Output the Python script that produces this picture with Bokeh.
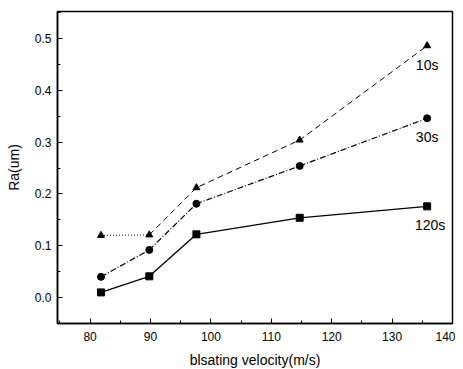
from bokeh.plotting import figure
from bokeh.models import FixedTicker, NumeralTickFormatter, Range1d, ColumnDataSource
from bokeh.core.properties import value
from bokeh.embed import file_html
from bokeh.resources import INLINE

velocity = [81.8, 89.8, 97.6, 114.7, 135.8]
ra_10s = [0.120, 0.121, 0.212, 0.304, 0.486]
ra_30s = [0.040, 0.092, 0.181, 0.254, 0.346]
ra_120s = [0.010, 0.041, 0.122, 0.154, 0.176]
series_labels = ["10s", "30s", "120s"]
label_dx = [0, 0, 3]
x_ticks = [80, 90, 100, 110, 120, 130, 140]
y_ticks = [0.0, 0.1, 0.2, 0.3, 0.4, 0.5]

FONT = "Liberation Sans"

p = figure(width=447, height=355, output_backend="svg", toolbar_location=None,
           x_range=Range1d(74.6, 140), y_range=Range1d(-0.05, 0.552),
           frame_width=395, frame_height=312,
           min_border_left=57, min_border_right=3, min_border_top=11, min_border_bottom=30)
p.grid.visible = False
p.outline_line_color = "black"
p.outline_line_width = 1.5
p.background_fill_color = "white"
p.border_fill_color = "white"

for ax in (p.xaxis[0], p.yaxis[0]):
    ax.axis_line_width = 1.5
    ax.major_tick_in = 5
    ax.major_tick_out = 0
    ax.minor_tick_in = 3
    ax.minor_tick_out = 0
    ax.major_label_text_font = FONT
    ax.major_label_text_font_size = "12px"
    ax.major_label_text_color = "black"
    ax.axis_label_text_font = FONT
    ax.axis_label_text_font_size = "14px"
    ax.axis_label_text_font_style = "normal"
    ax.axis_label_text_color = "black"

p.xaxis.ticker = FixedTicker(ticks=x_ticks, minor_ticks=[75, 85, 95, 105, 115, 125, 135])
p.yaxis.ticker = FixedTicker(ticks=y_ticks, minor_ticks=[-0.05, 0.05, 0.15, 0.25, 0.35, 0.45, 0.55])
p.yaxis.formatter = NumeralTickFormatter(format="0.0")
p.xaxis.axis_label = "blsating velocity(m/s)"
p.yaxis.axis_label = "Ra(um)"
p.xaxis.major_label_standoff = 8
p.xaxis.axis_label_standoff = 8
p.yaxis.major_label_standoff = 6
p.yaxis.axis_label_standoff = 10

# 10s: dotted first segment, dashed remainder
p.line(velocity[:2], ra_10s[:2], line_color="black", line_width=1, line_dash="1 2")
p.line(velocity[1:], ra_10s[1:], line_color="black", line_width=1, line_dash="6 4")
p.scatter(velocity, ra_10s, marker="triangle", size=7, color="black")

p.line(velocity, ra_30s, line_color="black", line_width=1.2, line_dash="6 2 1 2")
p.scatter(velocity, ra_30s, marker="circle", size=7, color="black")

p.line(velocity, ra_120s, line_color="black", line_width=1.3)
p.scatter(velocity, ra_120s, marker="square", size=7, color="black")

last_vals = [ra_10s[-1], ra_30s[-1], ra_120s[-1]]
src = ColumnDataSource(dict(x=[velocity[-1]] * 3, y=last_vals, t=series_labels, dx=label_dx))
p.text(x="x", y="y", text="t", source=src, text_font=value(FONT), text_font_size="14px",
       text_color="black", text_align="center", text_baseline="top",
       x_offset="dx", y_offset=11)

open("out.html", "w").write(file_html(p, INLINE))
